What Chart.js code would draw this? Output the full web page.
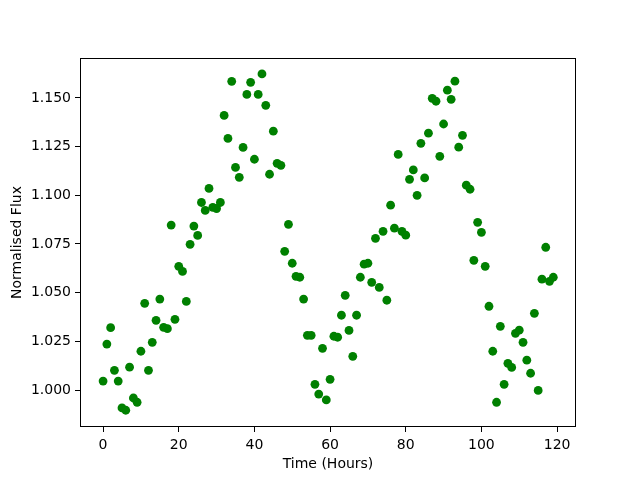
<!DOCTYPE html>
<html>
<head>
<meta charset="utf-8">
<script src="https://cdn.jsdelivr.net/npm/chart.js@4/dist/chart.umd.min.js"></script>
<style>
  html, body { margin: 0; padding: 0; background: #fff; }
  #wrap { width: 640px; height: 480px; }
</style>
</head>
<body>
<div id="wrap"><canvas id="fluxChart" width="640" height="480"></canvas></div>
<script>
// light curve: time in hours vs normalised flux

const hours = [
  0, 1, 2, 3, 4, 5, 6, 7, 8, 9, 10, 11, 12, 13, 14, 15, 16, 17, 18, 19,
  20, 21, 22, 23, 24, 25, 26, 27, 28, 29, 30, 31, 32, 33, 34, 35, 36, 37, 38, 39,
  40, 41, 42, 43, 44, 45, 46, 47, 48, 49, 50, 51, 52, 53, 54, 55, 56, 57, 58, 59,
  60, 61, 62, 63, 64, 65, 66, 67, 68, 69, 70, 71, 72, 73, 74, 75, 76, 77, 78, 79,
  80, 81, 82, 83, 84, 85, 86, 87, 88, 89, 90, 91, 92, 93, 94, 95, 96, 97, 98, 99,
  100, 101, 102, 103, 104, 105, 106, 107, 108, 109, 110, 111, 112, 113, 114, 115, 116, 117, 118, 119
];

const flux = [
  1.0046, 1.0236, 1.0320, 1.0101, 1.0046, 0.9908, 0.9896, 1.0117, 0.9959, 0.9937,
  1.0199, 1.0445, 1.0101, 1.0245, 1.0358, 1.0467, 1.0322, 1.0315, 1.0847, 1.0363,
  1.0635, 1.0609, 1.0455, 1.0748, 1.0842, 1.0794, 1.0963, 1.0922, 1.1035, 1.0938,
  1.0932, 1.0963, 1.1410, 1.1292, 1.1585, 1.1143, 1.1092, 1.1246, 1.1518, 1.1580,
  1.1185, 1.1518, 1.1623, 1.1462, 1.1108, 1.1329, 1.1164, 1.1154, 1.0712, 1.0851,
  1.0651, 1.0584, 1.0579, 1.0467, 1.0281, 1.0281, 1.0029, 0.9979, 1.0214, 0.9949,
  1.0055, 1.0276, 1.0271, 1.0384, 1.0486, 1.0306, 1.0173, 1.0384, 1.0579, 1.0646,
  1.0651, 1.0553, 1.0779, 1.0527, 1.0815, 1.0461, 1.0949, 1.0831, 1.1210, 1.0815,
  1.0795, 1.1082, 1.1130, 1.1000, 1.1267, 1.1089, 1.1319, 1.1498, 1.1483, 1.1200,
  1.1366, 1.1540, 1.1493, 1.1586, 1.1247, 1.1308, 1.1052, 1.1031, 1.0666, 1.0861,
  1.0810, 1.0635, 1.0430, 1.0199, 0.9937, 1.0327, 1.0029, 1.0137, 1.0116, 1.0291,
  1.0307, 1.0245, 1.0153, 1.0086, 1.0394, 0.9998, 1.0569, 1.0733, 1.0558, 1.0579
];

const xTicks = [0, 20, 40, 60, 80, 100, 120];
const yTicks = [1.000, 1.025, 1.050, 1.075, 1.100, 1.125, 1.150];

const points = hours.map((h, i) => ({ x: h, y: flux[i] }));

const tickFont = { family: 'DejaVu Sans', size: 14 };

// matplotlib-style box around the axes
const frame = {
  id: 'frame',
  afterDatasetsDraw(chart) {
    const a = chart.chartArea;
    const ctx = chart.ctx;
    ctx.save();
    ctx.strokeStyle = '#000';
    ctx.lineWidth = 1;
    ctx.strokeRect(Math.round(a.left) + 0.5, Math.round(a.top) + 0.5,
      Math.round(a.right - a.left) - 1, Math.round(a.bottom - a.top) - 1);
    ctx.restore();
  }
};

new Chart(document.getElementById('fluxChart'), {
  type: 'scatter',
  data: {
    datasets: [{
      data: points,
      backgroundColor: 'green',
      borderColor: 'green',
      borderWidth: 0,
      pointRadius: 4.4,
      pointHoverRadius: 4.4
    }]
  },
  options: {
    responsive: false,
    animation: false,
    layout: { padding: { left: 0, top: 58, right: 64, bottom: 0 } },
    plugins: {
      legend: { display: false },
      tooltip: { enabled: false }
    },
    scales: {
      x: {
        type: 'linear',
        min: -6.1,
        max: 125.0,
        afterFit: s => { s.height = 53; },
        afterBuildTicks: s => { s.ticks = xTicks.map(v => ({ value: v })); },
        border: { display: false },
        grid: { drawOnChartArea: false, drawTicks: true, tickLength: 5, tickColor: '#000', tickWidth: 1 },
        ticks: { color: '#000', font: tickFont, padding: 5, maxRotation: 0, callback: v => String(v) },
        title: { display: true, text: 'Time (Hours)', color: '#000', font: tickFont, padding: { top: 0, bottom: 7 } }
      },
      y: {
        type: 'linear',
        min: 0.981,
        max: 1.1705,
        afterFit: s => { s.width = 80; },
        afterBuildTicks: s => { s.ticks = yTicks.map(v => ({ value: v })); },
        border: { display: false },
        grid: { drawOnChartArea: false, drawTicks: true, tickLength: 5, tickColor: '#000', tickWidth: 1 },
        ticks: { color: '#000', font: tickFont, padding: 4, callback: v => Number(v).toFixed(3) },
        title: { display: true, text: 'Normalised Flux', color: '#000', font: tickFont, padding: { top: 9, bottom: 0 } }
      }
    }
  },
  plugins: [frame]
});
</script>
</body>
</html>
